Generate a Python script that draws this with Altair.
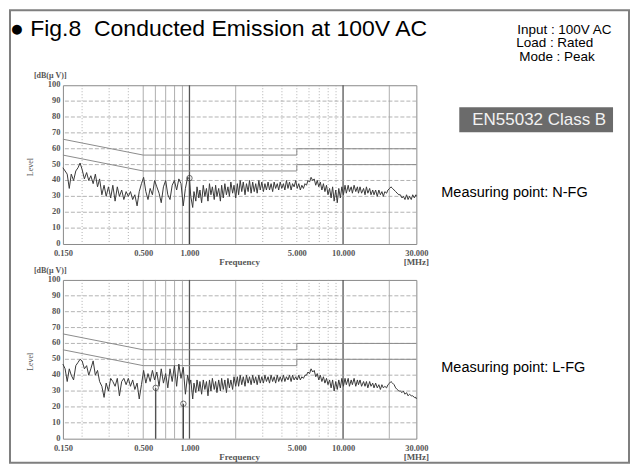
import altair as alt
import pandas as pd

# ---------------- data ----------------
freq_mhz = [
    0.150, 0.155, 0.160, 0.165, 0.170, 0.176, 0.182, 0.188, 0.194, 0.200,
    0.207, 0.214, 0.221, 0.228, 0.236, 0.244, 0.252, 0.260, 0.269, 0.278,
    0.287, 0.297, 0.307, 0.317, 0.328, 0.339, 0.350, 0.362, 0.374, 0.387,
    0.400, 0.413, 0.427, 0.441, 0.456, 0.471, 0.487, 0.503, 0.520, 0.537,
    0.555, 0.574, 0.593, 0.613, 0.634, 0.655, 0.677, 0.700, 0.723, 0.747,
    0.772, 0.798, 0.825, 0.853, 0.881, 0.911, 0.941, 0.973, 1.000,
    1.02, 1.05, 1.07, 1.10, 1.12, 1.15, 1.17, 1.20, 1.23, 1.26,
    1.29, 1.32, 1.35, 1.38, 1.41, 1.45, 1.48, 1.51, 1.55, 1.59,
    1.62, 1.66, 1.70, 1.74, 1.78, 1.82, 1.86, 1.91, 1.95, 2.00,
    2.05, 2.09, 2.14, 2.19, 2.24, 2.30, 2.35, 2.41, 2.46, 2.52,
    2.58, 2.64, 2.70, 2.76, 2.83, 2.89, 2.96, 3.03, 3.10, 3.17,
    3.25, 3.32, 3.40, 3.48, 3.56, 3.64, 3.73, 3.81, 3.90, 3.99,
    4.09, 4.18, 4.28, 4.38, 4.48, 4.59, 4.69, 4.80, 4.92, 5.03,
    5.15, 5.27, 5.39, 5.52, 5.65, 5.78, 5.91, 6.05, 6.19, 6.34,
    6.49, 6.64, 6.79, 6.95, 7.11, 7.28, 7.45, 7.62, 7.80, 7.98,
    8.17, 8.36, 8.55, 8.75, 8.96, 9.17, 9.38, 9.60, 9.82, 10.05,
    10.3, 10.5, 10.8, 11.0, 11.3, 11.5, 11.8, 12.1, 12.4, 12.6,
    12.9, 13.2, 13.6, 13.9, 14.2, 14.5, 14.9, 15.2, 15.6, 15.9,
    16.3, 16.7, 17.1, 17.5, 17.9, 18.3, 18.7, 19.2, 19.6, 20.1,
    20.5, 21.0, 21.5, 22.0, 22.5, 23.1, 23.6, 24.2, 24.7, 25.3,
    25.9, 26.5, 27.1, 27.8, 28.4, 29.1, 29.8, 30.0,
]

# Measuring point N-FG (dBuV)
level_nfg = [
    48, 46, 44, 35, 44, 40, 46, 48, 51, 47,
    41, 45, 40, 43, 38, 44, 36, 41, 31, 37,
    30, 36, 29, 37, 27, 36, 30, 34, 28, 33,
    30, 33, 28, 31, 24, 33, 38, 42, 33, 28,
    35, 31, 40, 36, 32, 26, 36, 40, 31, 28,
    37, 40, 34, 41, 38, 24, 35, 42, 41,
    30, 23, 33, 27, 36, 29, 34, 26, 37, 30,
    35, 27, 38, 31, 36, 28, 37, 30, 35, 27,
    37, 29, 38, 31, 36, 30, 39, 32, 37, 29,
    38, 31, 40, 33, 39, 31, 38, 33, 40, 32,
    39, 33, 38, 32, 40, 34, 39, 33, 38, 34,
    39, 34, 38, 33, 39, 35, 38, 34, 39, 35,
    38, 34, 40, 35, 39, 34, 38, 36, 40, 35,
    38, 34, 37, 35, 38, 37, 40, 39, 42, 40,
    41, 37, 40, 36, 39, 34, 38, 33, 37, 31,
    35, 29, 36, 27, 34, 26, 35, 29, 36, 31,
    37, 32, 37, 33, 36, 32, 37, 33, 36, 32,
    36, 32, 35, 31, 36, 32, 35, 31, 34, 31,
    34, 30, 34, 31, 33, 30, 33, 32, 34, 35,
    36, 35, 34, 33, 32, 31, 31, 29, 30, 28,
    31, 28, 30, 28, 31, 29, 31, 30,
]

# Measuring point L-FG (dBuV)
level_lfg = [
    47, 44, 36, 44, 40, 37, 46, 48, 50, 49,
    44, 46, 40, 44, 49, 40, 43, 36, 33, 26,
    35, 30, 38, 36, 33, 38, 27, 36, 38, 34,
    38, 33, 37, 31, 35, 25, 34, 43, 35, 41,
    36, 43, 37, 42, 33, 44, 35, 41, 32, 44,
    36, 46, 33, 47, 38, 45, 28, 40, 34,
    37, 25, 35, 29, 37, 30, 36, 28, 37, 31,
    36, 27, 37, 30, 38, 31, 36, 29, 37, 30,
    38, 31, 37, 29, 38, 32, 37, 31, 39, 33,
    39, 33, 40, 34, 39, 33, 40, 35, 39, 34,
    40, 35, 39, 34, 40, 35, 39, 35, 40, 36,
    39, 35, 40, 36, 39, 35, 40, 36, 39, 36,
    40, 36, 39, 37, 40, 36, 40, 37, 39, 37,
    40, 37, 39, 38, 40, 40, 42, 41, 44, 42,
    43, 39, 41, 37, 40, 36, 39, 35, 38, 34,
    37, 32, 37, 30, 36, 31, 37, 32, 38, 33,
    38, 34, 38, 33, 37, 34, 38, 33, 37, 34,
    37, 33, 36, 33, 36, 32, 36, 33, 35, 32,
    35, 32, 34, 31, 34, 32, 33, 32, 34, 35,
    36, 35, 34, 32, 31, 30, 30, 29, 30, 28,
    29, 27, 28, 27, 27, 26, 26, 25,
]

# EN55032 Class B limits (quasi-peak and average)
qp_freq = [0.15, 0.5, 5.0, 5.0, 30.0]
qp_level = [66, 56, 56, 60, 60]
av_freq = [0.15, 0.5, 5.0, 5.0, 30.0]
av_level = [56, 46, 46, 50, 50]

# markers
marker_nfg_freq = [1.0]
marker_nfg_level = [41.5]
marker_lfg_freq = [0.603, 0.913]
marker_lfg_level = [32, 22]

x_tick_values = [0.15, 0.5, 1, 5, 10, 30]
y_tick_values = [0, 10, 20, 30, 40, 50, 60, 70, 80, 90, 100]
grid_dotted = [0.2, 0.3, 0.4, 3, 4, 5, 6, 7, 8, 9]
grid_light = [0.5, 0.6, 0.7, 0.8, 0.9, 2, 20]
grid_major = [1, 10]
h_grid = [10, 20, 30, 40, 50, 60, 70, 80, 90]

# ---------------- chart ----------------
W, H = 354, 159
SERIF = "Liberation Serif"
SANS = "Liberation Sans"

X = alt.X(
    "freq:Q",
    scale=alt.Scale(type="log", domain=[0.15, 30], nice=False),
    axis=alt.Axis(values=x_tick_values, format=".3f", title=None, grid=False,
                  ticks=False, domain=False, labelFlush=False, labelOverlap=False,
                  labelFont=SERIF, labelFontWeight="bold", labelFontSize=8.5,
                  labelColor="#555", labelPadding=5),
)
Y = alt.Y(
    "level:Q",
    scale=alt.Scale(domain=[0, 100], nice=False),
    axis=alt.Axis(values=y_tick_values, format="d", title=None, grid=False,
                  ticks=False, domain=False, labelFont=SERIF, labelFontWeight="bold",
                  labelFontSize=8.5, labelColor="#555", labelPadding=3,
                  labelOffset=-1.5),
)

one = pd.DataFrame({"k": [0]})


def label(text, x, y, size, font=SANS, color="black", align="left",
          baseline="alphabetic", weight="normal", angle=0):
    return alt.Chart(one).mark_text(
        text=text, font=font, fontSize=size, color=color, align=align,
        baseline=baseline, fontWeight=weight, angle=angle,
    ).encode(x=alt.value(x), y=alt.value(y))


def panel(levels, mk_freq, mk_level, extras):
    trace_df = pd.DataFrame({"freq": freq_mhz, "level": levels})
    qp_df = pd.DataFrame({"freq": qp_freq, "level": qp_level, "i": range(len(qp_freq))})
    av_df = pd.DataFrame({"freq": av_freq, "level": av_level, "i": range(len(av_freq))})
    mk_df = pd.DataFrame({"freq": mk_freq, "level": mk_level, "base": [0] * len(mk_freq)})

    vdot = alt.Chart(pd.DataFrame({"freq": grid_dotted})).mark_rule(
        color="#a0a0a0", strokeWidth=0.8, strokeDash=[1, 2]).encode(x=X)
    vlight = alt.Chart(pd.DataFrame({"freq": grid_light})).mark_rule(
        color="#9a9a9a", strokeWidth=0.8).encode(x=X)
    vmajor = alt.Chart(pd.DataFrame({"freq": grid_major})).mark_rule(
        color="#555555", strokeWidth=1.3).encode(x=X)
    hgrid = alt.Chart(pd.DataFrame({"level": h_grid})).mark_rule(
        color="#a0a0a0", strokeWidth=0.8, strokeDash=[4, 2]).encode(y=Y)
    qp = alt.Chart(qp_df).mark_line(color="#8c8c8c", strokeWidth=1).encode(
        x=X, y=Y, order="i:Q")
    av = alt.Chart(av_df).mark_line(color="#8c8c8c", strokeWidth=1).encode(
        x=X, y=Y, order="i:Q")
    trace = alt.Chart(trace_df).mark_line(color="#3a3a3a", strokeWidth=1).encode(x=X, y=Y)
    mk_rule = alt.Chart(mk_df).mark_rule(color="#444444", strokeWidth=1.2).encode(
        x=X, y=Y, y2="base:Q")
    mk_pt = alt.Chart(mk_df).mark_point(shape="circle", filled=False, size=30,
                                        color="#333333", strokeWidth=1).encode(x=X, y=Y)

    axis_texts = [
        label("[dB(μ V)]", -29, -7, 8, font=SERIF, color="#555", weight="bold"),
        label("Level", -32, 82, 8, font=SERIF, color="#555", align="center",
              baseline="middle", angle=270),
        label("Frequency", W / 2, 177.5, 9, font=SERIF, color="#555", align="center",
              baseline="middle", weight="bold"),
        label("[MHz]", W, 177.5, 9, font=SERIF, color="#555", align="center",
              baseline="middle", weight="bold"),
    ]
    layers = [vdot, vlight, vmajor, hgrid, qp, av, trace, mk_rule, mk_pt] + axis_texts + extras
    return alt.layer(*layers).properties(width=W, height=H)


frame = alt.Chart(one).mark_rect(fill="white", fillOpacity=0, stroke="#7f7f7f",
                                 strokeWidth=2).encode(
    x=alt.value(-53), x2=alt.value(567), y=alt.value(-75), y2=alt.value(378))
en_box = alt.Chart(one).mark_rect(color="#6b6b6b").encode(
    x=alt.value(397), x2=alt.value(551), y=alt.value(22), y2=alt.value(47))

top_extras = [
    frame,
    label("● Fig.8\u00a0\u00a0Conducted Emission at 100V AC", -53, -49, 23),
    label("Input : 100V AC", 455, -51.5, 13.5),
    label("Load : Rated", 454, -38, 13.5),
    label("Mode : Peak", 457, -24, 13.5),
    en_box,
    label("EN55032 Class B", 410, 40, 17, color="#f2f2f2"),
    label("Measuring point: N-FG", 379, 112, 14.5),
]
bottom_extras = [
    label("Measuring point: L-FG", 379, 92, 14.5),
]

top = panel(level_nfg, marker_nfg_freq, marker_nfg_level, top_extras)
bottom = panel(level_lfg, marker_lfg_freq, marker_lfg_level, bottom_extras)

chart = (
    alt.vconcat(top, bottom, spacing=36, bounds="flush")
    .properties(padding=0, background="white")
    .configure_view(stroke="#8a8a8a", strokeWidth=1)
)

chart.save("out.html", embed_options={"renderer": "svg", "actions": False})
